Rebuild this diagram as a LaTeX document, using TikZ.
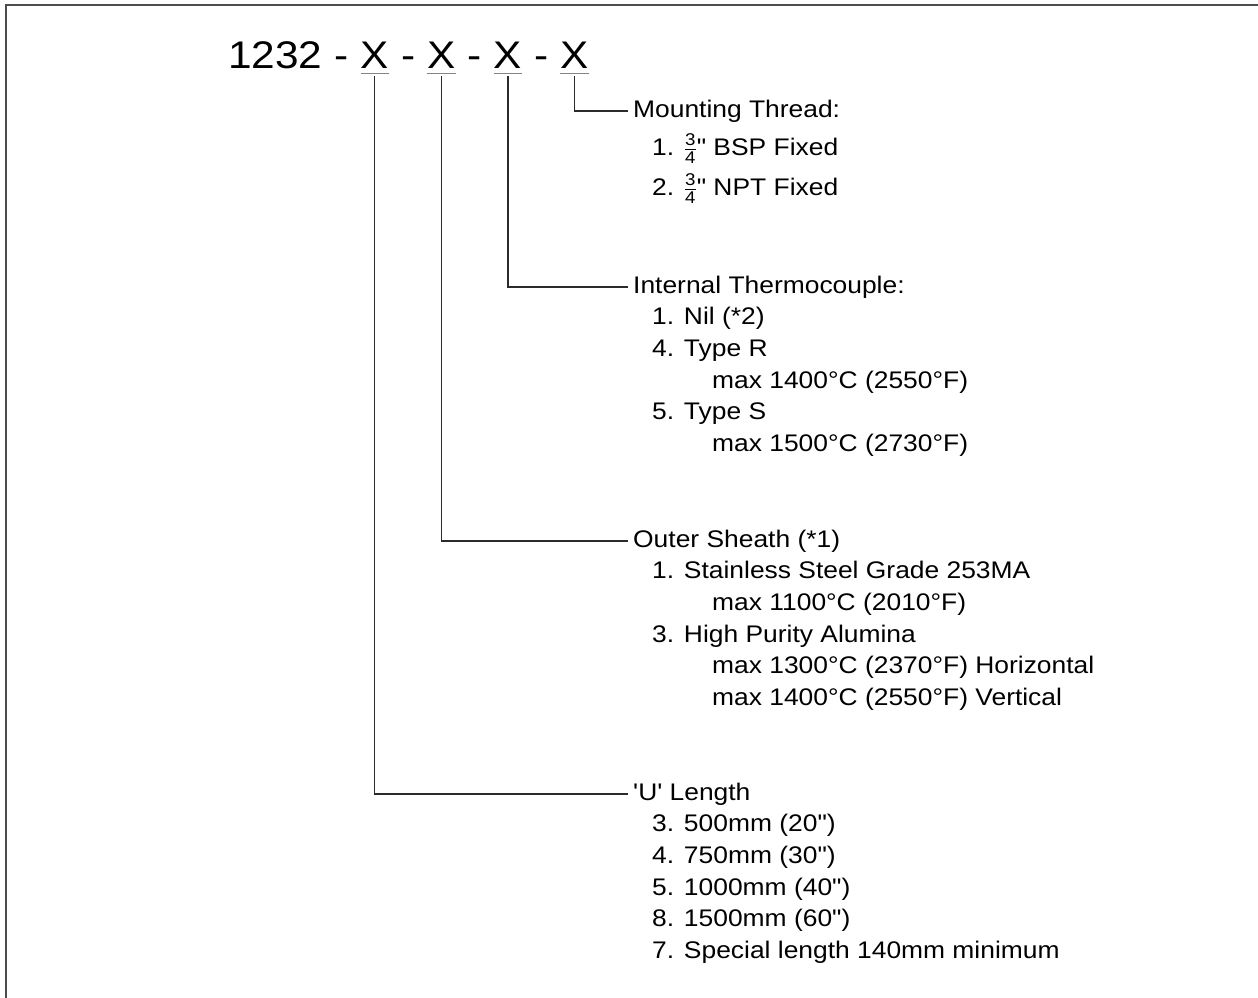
\documentclass[tikz,border=0pt]{standalone}
\usepackage{fontspec}
\setmainfont{Liberation Sans}[FakeStretch=1.1, Ligatures=TeXOff]
\usepackage{tikz}
\usetikzlibrary{positioning}
\definecolor{leadgray}{HTML}{2B2B2B}
\definecolor{framegray}{HTML}{4D4D4D}
\definecolor{ulgray}{HTML}{858585}

% small stacked 3/4 for the thread sizes
\newcommand{\tqtr}{$\frac{\hbox{\fontsize{17}{17}\selectfont 3}}{\hbox{\fontsize{17}{17}\selectfont 4}}$}

\begin{document}
\begin{tikzpicture}[x=1pt, y=-1pt,
    code/.style={inner sep=0pt, text height=28pt, text depth=8pt,
        font=\fontsize{38.5}{44}\selectfont},
    hdr/.style={anchor=west, inner xsep=5pt, inner ysep=0pt, text height=17pt,
        text depth=5pt, font=\fontsize{24}{29}\selectfont},
    itm/.style={hdr, inner xsep=0pt},
    lead/.style={draw=leadgray, line width=1.2pt},
    uline/.style={draw=ulgray, line width=1.3pt},
]
\useasboundingbox (0,0) rectangle (1258,998);
\draw[line width=2pt, framegray] (5.5,998) -- (5.5,5) -- (1258,5);

% part number
\node[code, anchor=base west] (pn) at (228,68) {1232};
\node[code, right=11.7pt of pn] (d1) {-};
\node[code, right=11.7pt of d1] (x1) {X};
\node[code, right=11.7pt of x1] (d2) {-};
\node[code, right=11.7pt of d2] (x2) {X};
\node[code, right=11.7pt of x2] (d3) {-};
\node[code, right=11.7pt of d3] (x3) {X};
\node[code, right=11.7pt of x3] (d4) {-};
\node[code, right=11.7pt of d4] (x4) {X};
\draw[uline] ([yshift=3pt]x1.south west) -- ([yshift=3pt]x1.south east);
\draw[uline] ([yshift=3pt]x2.south west) -- ([yshift=3pt]x2.south east);
\draw[uline] ([yshift=3pt]x3.south west) -- ([yshift=3pt]x3.south east);
\draw[uline] ([yshift=3pt]x4.south west) -- ([yshift=3pt]x4.south east);

% mounting thread
\node[hdr] (mt) at (628,111) {Mounting Thread:};
\node[itm] (mt1) at ([shift={(24,38)}]mt.west) {1. \tqtr" BSP Fixed};
\node[itm] (mt2) at ([shift={(0,40)}]mt1.west) {2. \tqtr" NPT Fixed};

% internal thermocouple
\node[hdr] (itc) at (628,287) {Internal Thermocouple:};
\node[itm] (itc1) at ([shift={(24,31.7)}]itc.west) {1. Nil (*2)};
\node[itm] (itc2) at ([shift={(0,31.7)}]itc1.west) {4. Type R};
\node[itm] (itc2a) at ([shift={(60,31.7)}]itc2.west) {max 1400°C (2550°F)};
\node[itm] (itc3) at ([shift={(-60,31.7)}]itc2a.west) {5. Type S};
\node[itm] (itc3a) at ([shift={(60,31.7)}]itc3.west) {max 1500°C (2730°F)};

% outer sheath
\node[hdr] (osh) at (628,541) {Outer Sheath (*1)};
\node[itm] (osh1) at ([shift={(24,31.7)}]osh.west) {1. Stainless Steel Grade 253MA};
\node[itm] (osh1a) at ([shift={(60,31.7)}]osh1.west) {max 1100°C (2010°F)};
\node[itm] (osh2) at ([shift={(-60,31.7)}]osh1a.west) {3. High Purity Alumina};
\node[itm] (osh2a) at ([shift={(60,31.7)}]osh2.west) {max 1300°C (2370°F) Horizontal};
\node[itm] (osh2b) at ([shift={(0,31.7)}]osh2a.west) {max 1400°C (2550°F) Vertical};

% U length
\node[hdr] (ulen) at (628,794) {'U' Length};
\node[itm] (u1) at ([shift={(24,31.7)}]ulen.west) {3. 500mm (20")};
\node[itm] (u2) at ([shift={(0,31.7)}]u1.west) {4. 750mm (30")};
\node[itm] (u3) at ([shift={(0,31.7)}]u2.west) {5. 1000mm (40")};
\node[itm] (u4) at ([shift={(0,31.7)}]u3.west) {8. 1500mm (60")};
\node[itm] (u5) at ([shift={(0,31.7)}]u4.west) {7. Special length 140mm minimum};

% leaders
\draw[lead] (x4.south) |- (mt.west);
\draw[lead] (x3.south) |- (itc.west);
\draw[lead] (x2.south) |- (osh.west);
\draw[lead] (x1.south) |- (ulen.west);
\end{tikzpicture}
\end{document}
